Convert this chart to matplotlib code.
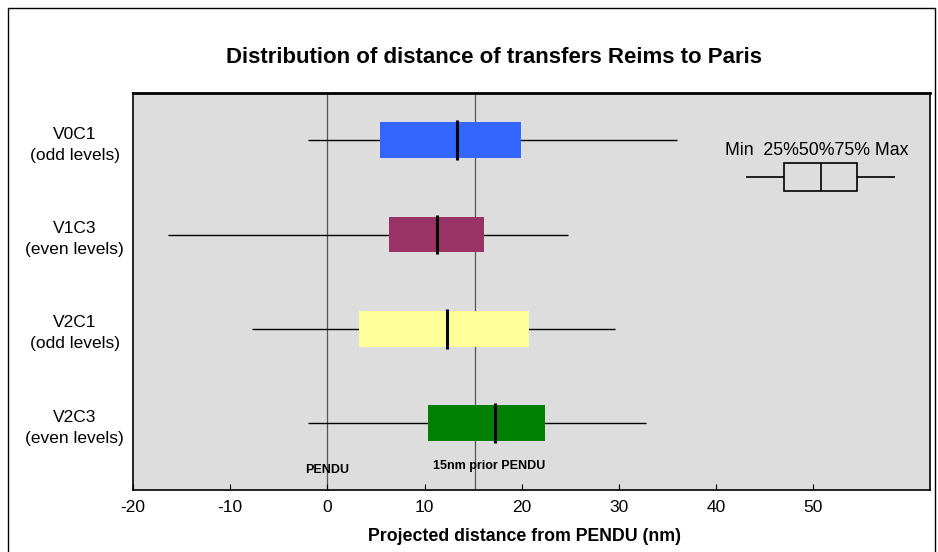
import matplotlib
matplotlib.use("Agg")
import matplotlib.pyplot as plt
from matplotlib.patches import Rectangle
from matplotlib.ticker import FuncFormatter

plt.rcParams['font.family'] = ['Liberation Sans', 'DejaVu Sans']

# data (nm from PENDU)
labels = ["V0C1\n(odd levels)", "V1C3\n(even levels)", "V2C1\n(odd levels)", "V2C3\n(even levels)"]
mins = [-2.0, -16.4, -7.8, -2.0]
q1s = [5.4, 6.3, 3.3, 10.4]
medians = [13.3, 11.3, 12.3, 17.2]
q3s = [19.9, 16.1, 20.7, 22.4]
maxs = [36.0, 24.8, 29.6, 32.8]
colors = ["#3366FF", "#993366", "#FFFF99", "#008000"]

ref_lines = [0, 15.2]
legend_stats = [43.1, 47.0, 50.8, 54.5, 58.4]  # min, 25, 50, 75, max of the key

fig = plt.figure(figsize=(9.38, 5.52), dpi=100)
ax = fig.add_axes([0.1418, 0.1123, 0.8497, 0.719])
ax.set_facecolor("#DDDDDD")

ypos = list(range(len(labels)))
h = 0.38

for xv in ref_lines:
    ax.axvline(xv, color="#555555", lw=0.9, zorder=1)

ax.hlines(ypos, mins, maxs, color="black", lw=1.0, zorder=2)
ax.barh(ypos, [b - a for a, b in zip(q1s, q3s)], left=q1s, height=h,
        color=colors, edgecolor="none", zorder=3)
ax.vlines(medians, [y - h / 2 - 0.02 for y in ypos], [y + h / 2 + 0.02 for y in ypos],
          color="black", lw=2.2, zorder=4)

# key in the upper right
ky = 0.39
kh = 0.29
mn, a, md, b, mx = legend_stats
ax.hlines(ky, mn, a, color="black", lw=1.2, zorder=4)
ax.hlines(ky, b, mx, color="black", lw=1.2, zorder=4)
ax.add_patch(Rectangle((a, ky - kh / 2), b - a, kh, fill=False, ec="black", lw=1.2, zorder=4))
ax.vlines(md, ky - kh / 2, ky + kh / 2, color="black", lw=1.2, zorder=4)
ax.text(50.3, 0.11, "Min  25%50%75% Max", ha="center", va="center", fontsize=12.8)

ax.text(0, 3.5, "PENDU", ha="center", va="center", fontsize=9, fontweight="bold")
ax.text(16.6, 3.46, "15nm prior PENDU", ha="center", va="center", fontsize=9, fontweight="bold")

ax.set_xlim(-20, 62)
ax.set_ylim(3.71, -0.5)
ax.set_xticks(range(-20, 60, 10))
ax.xaxis.set_major_formatter(FuncFormatter(lambda v, p: "%d" % v))
ax.set_yticks(ypos)
ax.set_yticklabels(labels, ha="center", fontsize=12.5, linespacing=1.5)
ax.tick_params(axis="y", length=0, pad=42)
ax.tick_params(axis="x", direction="in", length=4, labelsize=12.5, pad=7)
for s in ax.spines.values():
    s.set_linewidth(1.2)
    s.set_color("black")
ax.spines["top"].set_linewidth(2)

ax.set_xlabel("Projected distance from PENDU (nm)", fontsize=12.8, fontweight="bold", labelpad=9)
ax.xaxis.set_label_coords(0.491, -0.095)
fig.text(0.527, 0.895, "Distribution of distance of transfers Reims to Paris",
         ha="center", va="center", fontsize=16, fontweight="bold")

fig.patches.append(Rectangle((8 / 938, -0.05), 927 / 938, 1.05 - 8 / 552, transform=fig.transFigure,
                             fill=False, ec="black", lw=1))

fig.savefig("out.png", dpi=100)
